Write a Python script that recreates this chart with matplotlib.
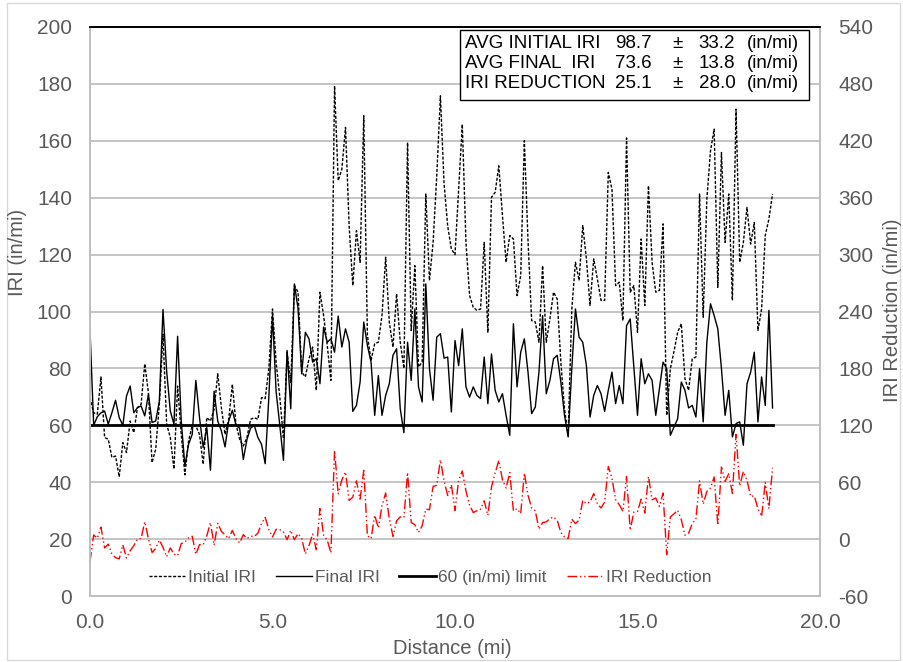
import numpy as np
import matplotlib.pyplot as plt
from matplotlib.patches import Rectangle

plt.rcParams['font.family'] = ['Liberation Sans', 'DejaVu Sans']
plt.rcParams['axes.unicode_minus'] = False

# IRI readings every 0.1 mi (in/mi)
initial_iri = [
    69.7, 64.4, 63.9, 77, 55.7, 55.1, 48.7, 49.2, 41.9, 53.9,
    50.4, 61.5, 57.4, 66.2, 67.4, 81.6, 71.5, 46.9, 51.6, 67.4,
    92, 60.4, 55.7, 44.6, 73.8, 56.8, 42.6, 54.5, 59.8, 59.8,
    56.8, 46.3, 62.7, 61.5, 65.6, 78.1, 66.2, 56.8, 62.1, 74.4,
    60.4, 55.1, 52.7, 55.7, 62.1, 62.7, 62.1, 69.7, 69.4, 80,
    100.9, 82, 70, 55.3, 85.7, 75, 109.1, 106.8, 78.7, 77,
    83.4, 87.5, 72.3, 106.8, 98.6, 88.1, 75.8, 179.3, 146, 150,
    164.7, 130, 109.1, 128.4, 117.3, 168.8, 91.6, 82.8, 88.7, 89.2,
    98.6, 119.1, 96.3, 87.5, 106.2, 89.2, 80, 159.4, 93.3, 116.1,
    80.5, 82.2, 141.3, 110.9, 124.3, 147.7, 175.8, 145, 130, 122,
    120, 143, 165.8, 124.3, 105.6, 101.5, 100.4, 100.9, 124.3, 92.7,
    140.1, 141.9, 151.2, 133.7, 117.3, 126.7, 125.5, 105.6, 112.6, 160,
    125, 96.8, 96.3, 89.2, 116.1, 89.2, 97.4, 106.8, 104.4, 82.2,
    65.8, 56.5, 100.9, 117.3, 110.9, 130.2, 118.5, 102.1, 118.5, 111.5,
    103.9, 103.9, 148.9, 143, 109.1, 110.3, 96.8, 161, 106.8, 109.1,
    92.7, 125.5, 102.1, 144.2, 117.3, 106.8, 107.4, 130.8, 63.5, 79.9,
    86, 92.7, 95.7, 76.4, 72.3, 83.4, 84, 141.3, 98, 139.5,
    156.5, 164.1, 108.5, 155.9, 124.3, 141.3, 103.9, 171.1, 117.3, 124.3,
    136.6, 123.7, 131.3, 93.3, 100.9, 126.7, 132.5, 141.3,
]
final_iri = [
    93.7, 60, 63, 64.4, 65, 60.4, 64.4, 68.8, 62.7, 60,
    70.3, 73.8, 64.4, 66.2, 66.8, 63.3, 70.9, 61, 61.5, 68.5,
    100.7, 79, 65, 60.4, 91.3, 61.5, 45.7, 53.3, 56.8, 75.8,
    62.7, 52.2, 59.2, 44.2, 72, 61.5, 58, 52.4, 61.5, 65.3,
    60, 59, 48, 55, 59, 60, 55.7, 53.3, 46.5, 70,
    98.6, 71.7, 60, 47.7, 86.3, 65.8, 109.7, 101, 78.1, 92.7,
    90.4, 82.2, 83.4, 74.6, 94.5, 89.2, 90.4, 85.7, 98.4, 87.5,
    93.9, 89.2, 64.9, 67, 75.2, 96.3, 88.1, 82.2, 63.5, 77.5,
    63.5, 70.5, 74.6, 84.6, 86.9, 65.8, 57.4, 89.2, 75.8, 100.9,
    73.5, 68.2, 109.7, 79.9, 68.8, 91, 92.2, 83.6, 84, 64.7,
    89.8, 81, 93.9, 73.5, 69.9, 73.5, 70.5, 69.4, 84, 67.6,
    85.1, 72.3, 68.2, 71.1, 63.5, 56.5, 95.7, 73.5, 85.7, 90.4,
    78.7, 64.1, 66.4, 78.7, 98.6, 71.1, 75.8, 83.4, 84.6, 75.2,
    63.5, 55.9, 79.9, 100.9, 91, 89.2, 81, 62.9, 70.5, 74,
    71.1, 64.9, 72.3, 78.7, 67.6, 74, 67.6, 95, 97.4, 80.5,
    63.5, 83.4, 74.6, 78.1, 75.8, 63.5, 72.9, 82.2, 79.9, 56.5,
    59.4, 62.3, 75.2, 72.3, 66.1, 67, 62.9, 79.9, 61.2, 89.2,
    102.7, 98.6, 93.9, 79.9, 63.5, 72.3, 55.9, 60.6, 61.2, 53,
    74.6, 78.7, 85.7, 61.2, 77, 67, 100.4, 66.1,
]
limit_iri = 60

stat_labels = ['AVG INITIAL IRI', 'AVG FINAL  IRI', 'IRI REDUCTION']
stat_means = ['98.7', '73.6', '25.1']
stat_sds = ['33.2', '13.8', '28.0']

distance = np.arange(len(final_iri)) * 0.1
reduction = np.array(initial_iri) - np.array(final_iri)

W, H = 904, 662
fig = plt.figure(figsize=(W / 100, H / 100), dpi=100)
ax = fig.add_axes([90/W, 66/H, 730/W, 569/H])
ax2 = ax.twinx()

grid_c = '#bfbfbf'
txt_c = '#595959'

l1, = ax.plot(distance, initial_iri, color='black', lw=1, ls=(0, (2.2, 1.2)), label='Initial IRI')
l2, = ax.plot(distance, final_iri, color='black', lw=1, label='Final IRI')
l3, = ax.plot(distance, [limit_iri] * len(distance), color='black', lw=2, label='60 (in/mi) limit')
l4, = ax2.plot(distance, reduction, color='red', lw=1, ls=(0, (7, 2, 1, 2, 1, 2)), label='IRI Reduction')

ax.set_xlim(0, 20)
ax.set_ylim(0, 200)
ax2.set_ylim(-60, 540)
ax.set_xticks(np.arange(0, 20.1, 5))
ax.set_xticklabels([f'{v:.1f}' for v in np.arange(0, 20.1, 5)])
ax.set_yticks(np.arange(0, 201, 20))
ax2.set_yticks(np.arange(-60, 541, 60))

ax.yaxis.grid(True, color=grid_c, lw=1.3)
ax.set_axisbelow(True)
for a in (ax, ax2):
    a.tick_params(axis='y', length=0, labelsize=15, labelcolor=txt_c, pad=13)
    a.tick_params(axis='x', length=0, labelsize=15, labelcolor=txt_c, pad=12)
    for s in ('left', 'right', 'bottom'):
        a.spines[s].set_color(grid_c)
        a.spines[s].set_linewidth(1.3)
    a.spines['top'].set_color('black')
    a.spines['top'].set_linewidth(1.3)

# axis titles
fig.text(452/W, 1 - 649/H, 'Distance (mi)', fontsize=14.5, color=txt_c, ha='center', va='center')
fig.text(18/W, 1 - 252/H, 'IRI (in/mi)', fontsize=14.5, color=txt_c, ha='center', va='center', rotation=90)
fig.text(893/W, 1 - 310/H, 'IRI Reduction (in/mi)', fontsize=14.5, color=txt_c, ha='center', va='center', rotation=90)

leg = ax.legend(handles=[l1, l2, l3, l4], loc='center', bbox_to_anchor=((430 - 90) / 730, (596 - 577) / 569),
                ncol=4, frameon=False, fontsize=12.5, handlelength=2.1,
                handletextpad=0.15, columnspacing=1.15)
for t in leg.get_texts():
    t.set_color(txt_c)

# statistics box
fig.patches.append(Rectangle((460/W, 1 - 100/H), 349/W, 70/H, transform=fig.transFigure,
                             facecolor='white', edgecolor='black', lw=1, zorder=5))
row_y = [43, 64, 84]
for i in range(3):
    y = 1 - row_y[i] / H
    fig.text(465/W, y, stat_labels[i], fontsize=13.5, va='center', ha='left', zorder=6)
    fig.text(633/W, y, stat_means[i], fontsize=13.5, va='center', ha='center', zorder=6)
    fig.text(678/W, y, '±', fontsize=13.5, va='center', ha='center', zorder=6)
    fig.text(717/W, y, stat_sds[i], fontsize=13.5, va='center', ha='center', zorder=6)
    fig.text(773/W, y, '(in/mi)', fontsize=13.5, va='center', ha='center', zorder=6)

# chart area border
fig.patches.append(Rectangle((7/W, 2/H), 893/W, 657/H, transform=fig.transFigure,
                             facecolor='none', edgecolor='#d9d9d9', lw=1))

fig.savefig('out.png', dpi=100)
